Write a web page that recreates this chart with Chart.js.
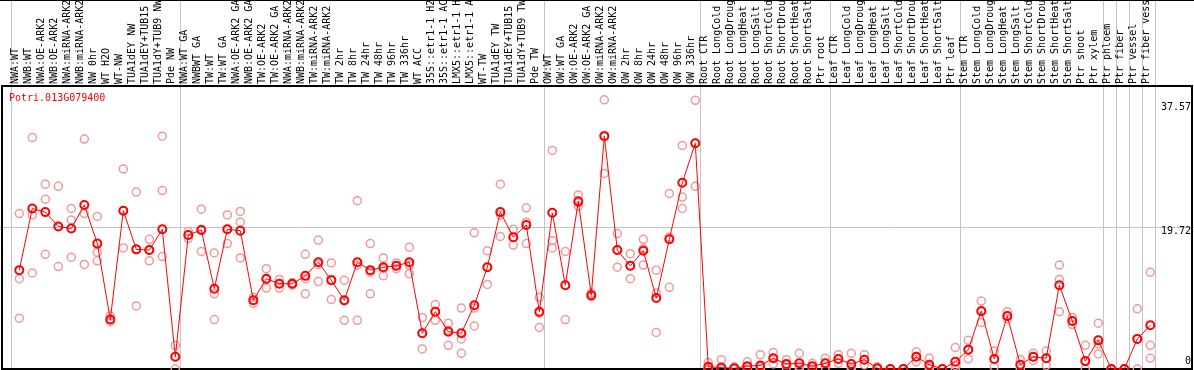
<!DOCTYPE html>
<html><head><meta charset="utf-8">
<script src="https://cdn.jsdelivr.net/npm/chart.js@4/dist/chart.umd.min.js"></script>
<style>html,body{margin:0;padding:0;background:#fff;overflow:hidden}canvas{display:block}</style>
</head><body>
<canvas id="c" width="1194" height="370"></canvas>
<script>
const geneName = "Potri.013G079400";
const categories = [
"NWA:WT","NWB:WT","NWA:OE-ARK2","NWB:OE-ARK2","NWA:miRNA-ARK2","NWB:miRNA-ARK2","NW 0hr","WT H2O","WT-NW","TUA1dEY NW",
"TUA1dEY+TUB15 NW","TUA1dY+TUB9 NW","Pde NW","NWA:WT GA","NWBWT GA","TW:WT","TW:WT GA","NWA:OE-ARK2 GA","NWB:OE-ARK2 GA","TW:OE-ARK2",
"TW:OE-ARK2 GA","NWA:miRNA-ARK2 GA","NWB:miRNA-ARK2 GA","TW:miRNA-ARK2","TW:miRNA-ARK2 GA","TW 2hr","TW 8hr","TW 24hr","TW 48hr","TW 96hr",
"TW 336hr","WT ACC","35S::etr1-1 H2O","35S::etr1-1 ACC","LMX5::etr1-1 H2O","LMX5::etr1-1 ACC","WT-TW","TUA1dEY TW","TUA1dEY+TUB15 TW","TUA1dY+TUB9 TW",
"Pde TW","OW:WT","OW:WT GA","OW:OE-ARK2","OW:OE-ARK2 GA","OW:miRNA-ARK2","OW:miRNA-ARK2 GA","OW 2hr","OW 8hr","OW 24hr",
"OW 48hr","OW 96hr","OW 336hr","Root CTR","Root LongCold","Root LongDrought","Root LongHeat","Root LongSalt","Root ShortCold","Root ShortDrought",
"Root ShortHeat","Root ShortSalt","Ptr root","Leaf CTR","Leaf LongCold","Leaf LongDrought","Leaf LongHeat","Leaf LongSalt","Leaf ShortCold","Leaf ShortDrought",
"Leaf ShortHeat","Leaf ShortSalt","Ptr leaf","Stem CTR","Stem LongCold","Stem LongDrought","Stem LongHeat","Stem LongSalt","Stem ShortCold","Stem ShortDrought",
"Stem ShortHeat","Stem ShortSalt","Ptr shoot","Ptr xylem","Ptr phloem","Ptr fiber","Ptr vessel","Ptr fiber vessel"
];
const means = [
13.8,22.4,21.9,19.9,19.6,22.9,17.5,6.9,22.1,16.7,
16.6,19.5,1.7,18.7,19.4,11.2,19.5,19.3,9.6,12.6,
11.9,11.9,13.0,14.9,12.4,9.6,14.9,13.8,14.2,14.4,
14.9,5.0,8.0,5.2,5.0,8.9,14.2,21.9,18.4,20.1,
8.0,21.8,11.7,23.4,10.3,32.5,16.6,14.4,16.5,9.9,
18.1,26.0,31.5,0.3,0.2,0.1,0.4,0.5,1.5,0.7,
0.8,0.4,0.8,1.4,0.7,1.3,0.1,0,0,1.7,
0.6,0,1.0,2.7,8.1,1.4,7.4,0.6,1.7,1.5,
11.7,6.7,1.1,4.0,0,0,4.2,6.1
];
const repA = [
21.7,32.3,25.8,25.5,22.4,32.1,21.3,7.4,27.9,24.7,
18.1,32.5,3.3,19.2,22.3,16.2,21.5,22.0,10.0,14.0,
12.5,12.0,16.0,18.0,14.8,12.4,23.5,17.5,15.5,14.8,
17.0,7.2,9.0,6.4,8.5,19.0,16.5,25.8,19.5,22.5,
10.0,30.5,16.4,24.3,10.6,37.57,18.9,16.1,18.1,13.8,
24.5,31.2,37.5,0.9,1.3,0.3,1.0,2.0,2.3,1.3,
2.2,0.8,1.5,2.0,2.2,2.0,0.3,0,0,2.4,
1.5,0,3.0,4.0,9.5,2.5,8.0,1.3,2.2,2.5,
14.5,7.2,3.3,6.4,0,0,8.4,13.5
];
const repB = [
12.6,21.5,23.7,14.3,20.8,21.7,16.3,6.6,22.1,16.7,
15.1,24.9,1.7,18.7,19.5,10.5,19.5,20.5,9.6,12.5,
11.9,11.7,12.6,14.6,12.5,9.5,14.5,13.5,14.0,14.0,
14.5,5.0,8.0,5.4,4.2,8.5,14.2,21.5,18.4,20.5,
7.8,17.9,11.7,22.7,10.2,32.6,16.6,14.4,16.8,10.6,
18.4,24.0,31.5,0.1,0,0,0.3,0.3,1.5,0.6,
0.4,0.4,0.8,1.4,0.3,1.3,0,0,0,1.7,
0.3,0,0.5,2.7,8.0,1.4,7.4,0.6,1.7,1.5,
12.5,6.7,1.1,3.5,0,0,4.2,3.3
];
const repC = [
7.1,13.4,16.0,19.9,15.6,14.6,15.1,6.9,16.9,8.8,
16.6,15.7,0.0,18.2,16.4,6.9,17.5,15.5,9.2,11.3,
11.3,12.0,10.5,12.2,9.7,6.8,6.8,10.5,13.0,14.4,
13.3,2.8,6.8,3.3,2.2,6.0,11.8,18.5,17.3,17.5,
5.8,16.9,6.9,23.2,10.1,27.3,14.2,12.6,14.5,5.1,
11.4,22.4,25.5,0,0,0,0,0,0.7,0.2,
0,0,0.2,0.8,0,0.6,0,0,0,1.0,
0,0,0,1.4,6.5,0.3,7.0,0,1.2,0.5,
8.0,6.2,0,2.1,0,0,0,1.5
];
const yTickValues = [0, 19.72, 37.57];
const yTickLabels = ["0", "19.72", "37.57"];
const groupStarts = [0, 13, 41, 53, 63, 73, 84, 85, 86, 87, 88];

const FONT = "'DejaVu Sans Mono', monospace";
const repPoints = [];
[repA, repB, repC].forEach(arr => arr.forEach((v, i) => { if (v !== null) repPoints.push({x: i, y: v}); }));
const meanPoints = means.map((v, i) => ({x: i, y: v}));

const framePlugin = {
  id: 'frame',
  beforeDraw(chart) {
    const {ctx, chartArea: a, scales: {x}} = chart;
    ctx.save();
    ctx.strokeStyle = '#c4c4c4';
    ctx.lineWidth = 1;
    groupStarts.forEach(g => {
      const px = Math.round(x.getPixelForValue(g - 0.615)) + 0.5;
      ctx.beginPath(); ctx.moveTo(px, 0); ctx.lineTo(px, a.bottom); ctx.stroke();
    });
    ctx.restore();
  },
  beforeDatasetsDraw(chart) {
    const {ctx, chartArea: a} = chart;
    ctx.save();
    ctx.strokeStyle = '#000';
    ctx.lineWidth = 2;
    ctx.strokeRect(2, a.top, chart.width - 4, a.bottom - a.top);
    ctx.lineWidth = 1;
    ctx.beginPath(); ctx.moveTo(0, 0.5); ctx.lineTo(chart.width, 0.5); ctx.stroke();
    ctx.fillStyle = '#ff0000';
    ctx.font = "10px " + FONT;
    ctx.textBaseline = 'alphabetic';
    ctx.fillText(geneName, 9, a.top + 15);
    ctx.restore();
  }
};

new Chart(document.getElementById('c'), {
  data: {
    datasets: [
      { type: 'scatter', data: repPoints, pointRadius: 4, pointBorderWidth: 1.5,
        pointBorderColor: '#f09a9a', pointBackgroundColor: 'rgba(0,0,0,0)', showLine: false, clip: false, order: 2 },
      { type: 'line', data: meanPoints, borderColor: '#ff0000', borderWidth: 1, tension: 0,
        pointRadius: 4, pointBorderWidth: 2, pointBorderColor: '#ff0000', pointBackgroundColor: 'rgba(0,0,0,0)', clip: false, order: 1 }
    ]
  },
  options: {
    responsive: false, devicePixelRatio: 1, animation: false, events: [],
    layout: { autoPadding: false, padding: { left: 0, right: 0, top: 0, bottom: 1 } },
    plugins: { legend: { display: false }, tooltip: { enabled: false }, title: { display: false } },
    scales: {
      x: {
        type: 'linear', position: 'top', min: -1.485, max: -1.485 + 1194 / 13, offset: false,
        afterBuildTicks: s => { s.ticks = categories.map((_, i) => ({value: i})); },
        afterFit: s => { s.height = 86; s.paddingLeft = 0; s.paddingRight = 0; s.paddingTop = 0; s.paddingBottom = 0; },
        grid: { display: false, drawTicks: false }, border: { display: false },
        ticks: { autoSkip: false, minRotation: 90, maxRotation: 90, padding: 2, color: '#000',
          font: { family: FONT, size: 10, lineHeight: 0.36 },
          callback: (v) => categories[v] }
      },
      y: {
        position: 'right', min: 0, max: 39.5,
        afterBuildTicks: s => { s.ticks = yTickValues.map(v => ({value: v})); },
        afterFit: s => { s.width = 0; s.paddingTop = 0; s.paddingBottom = 0; s.paddingLeft = 0; s.paddingRight = 0; },
        grid: { drawTicks: false, lineWidth: 1, color: c => (c.tick && c.tick.value === 19.72) ? '#c4c4c4' : 'rgba(0,0,0,0)' },
        border: { display: false },
        ticks: { mirror: true, padding: -3, color: '#000', font: { family: FONT, size: 10, lineHeight: 0.8 },
          callback: (v, idx) => idx === 0 ? [yTickLabels[idx], '', ''] : (idx === 1 ? ['', yTickLabels[idx]] : ['', '', yTickLabels[idx]]) }
      }
    }
  },
  plugins: [framePlugin]
});
</script>
</body></html>
